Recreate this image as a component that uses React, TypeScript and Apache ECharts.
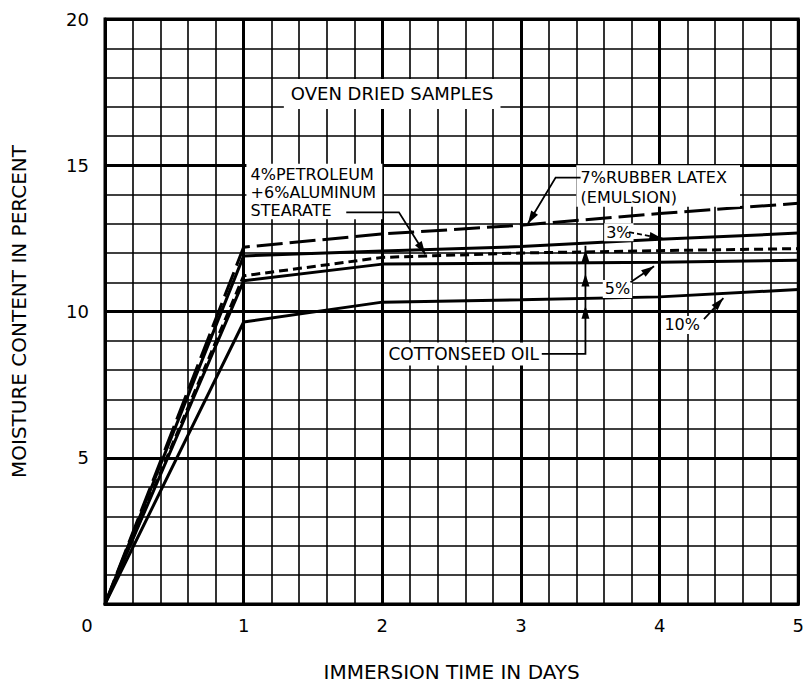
import React, { useEffect, useRef } from "react";
import * as echarts from "echarts";

// Immersion time (days)
const days = [0, 1, 2, 3, 4, 5];
// Moisture content in percent
const rubberLatex7 = [0, 12.2, 12.65, 12.95, 13.35, 13.7];
const cottonseed3 = [0, 11.9, 12.07, 12.22, 12.47, 12.68];
const petroleumStearate = [0, 11.22, 11.85, 12.0, 12.08, 12.15];
const cottonseed5 = [0, 11.05, 11.62, 11.65, 11.68, 11.75];
const cottonseed10 = [0, 9.64, 10.32, 10.4, 10.5, 10.75];

const xTicks = [0, 1, 2, 3, 4, 5];
const yTicks = [0, 5, 10, 15, 20];

const FONT = "DejaVu Sans";

const pairs = (ys: number[]) => days.map((d, i) => [d, ys[i]]);

export default function App() {
  const ref = useRef<HTMLDivElement>(null);
  useEffect(() => {
    if (!ref.current) return;
    const chart = echarts.init(ref.current, null, { renderer: "svg" });
    const lineSeries = (name: string, ys: number[], type: any) => ({
      name,
      type: "line",
      data: pairs(ys),
      symbol: "none",
      silent: true,
      lineStyle: { color: "#000", width: 3, type, cap: "butt" },
      z: 5,
    });
    chart.setOption({
      animation: false,
      backgroundColor: "#fff",
      grid: {
        left: 105,
        right: 5,
        top: 19,
        bottom: 81,
        show: true,
        borderColor: "#000",
        borderWidth: 3,
        backgroundColor: "transparent",
      },
      xAxis: {
        type: "value",
        min: xTicks[0],
        max: xTicks[xTicks.length - 1],
        interval: 1,
        name: "IMMERSION TIME IN DAYS",
        nameLocation: "middle",
        nameGap: 58,
        nameTextStyle: { fontFamily: FONT, fontSize: 20, color: "#000" },
        axisLine: { show: true, lineStyle: { color: "#000", width: 3 } },
        axisTick: { show: false },
        axisLabel: {
          margin: 12,
          fontFamily: FONT,
          fontSize: 18,
          color: "#000",
          formatter: (v: number) => (v === 0 ? "{z|0}" : String(v)),
          rich: { z: { fontFamily: FONT, fontSize: 18, color: "#000", padding: [0, 36, 0, 0] } },
        },
        splitLine: { show: true, lineStyle: { color: "#000", width: 3 } },
        minorTick: { show: false, splitNumber: 5 },
        minorSplitLine: { show: true, lineStyle: { color: "#000", width: 1.6 } },
      },
      yAxis: {
        type: "value",
        min: yTicks[0],
        max: yTicks[yTicks.length - 1],
        interval: 5,
        name: "MOISTURE CONTENT IN PERCENT",
        nameLocation: "middle",
        nameGap: 76,
        nameTextStyle: { fontFamily: FONT, fontSize: 20, color: "#000" },
        axisLine: { show: true, lineStyle: { color: "#000", width: 3 } },
        axisTick: { show: false },
        axisLabel: {
          margin: 16,
          fontFamily: FONT,
          fontSize: 18,
          color: "#000",
          showMinLabel: false,
        },
        splitLine: { show: true, lineStyle: { color: "#000", width: 3 } },
        minorTick: { show: false, splitNumber: 5 },
        minorSplitLine: { show: true, lineStyle: { color: "#000", width: 1.6 } },
      },
      series: [
        lineSeries("7% RUBBER LATEX (EMULSION)", rubberLatex7, [26, 7]),
        lineSeries("3% COTTONSEED OIL", cottonseed3, "solid"),
        lineSeries("4% PETROLEUM + 6% ALUMINUM STEARATE", petroleumStearate, [9, 5]),
        lineSeries("5% COTTONSEED OIL", cottonseed5, "solid"),
        lineSeries("10% COTTONSEED OIL", cottonseed10, "solid"),
      ],
    });

    const p = (x: number, y: number) => chart.convertToPixel({ gridIndex: 0 }, [x, y]) as number[];
    const txt = (
      x: number,
      y: number,
      text: string,
      opts: { size?: number; pad?: number[]; bg?: boolean } = {}
    ) => {
      const [px, py] = p(x, y);
      return {
        type: "text",
        x: px,
        y: py,
        z: 20,
        silent: true,
        style: {
          text,
          fill: "#000",
          font: `${opts.size || 17}px "${FONT}"`,
          align: "left",
          verticalAlign: "middle",
          backgroundColor: opts.bg === false ? null : "#fff",
          padding: opts.bg === false ? 0 : opts.pad || [3, 4],
        },
      };
    };
    const box = (x0: number, y0: number, x1: number, y1: number) => {
      const a = p(x0, y0);
      const b = p(x1, y1);
      return {
        type: "rect",
        z: 19,
        silent: true,
        shape: {
          x: Math.min(a[0], b[0]),
          y: Math.min(a[1], b[1]),
          width: Math.abs(b[0] - a[0]),
          height: Math.abs(b[1] - a[1]),
        },
        style: { fill: "#fff" },
      };
    };
    const leader = (pts: number[][], dashed = false) => ({
      type: "polyline",
      z: 21,
      silent: true,
      shape: { points: pts.map(([x, y]) => p(x, y)) },
      style: { stroke: "#000", lineWidth: 1.8, fill: "none", lineDash: dashed ? [5, 3] : null },
    });
    const arrow = (from: number[], tip: number[]) => {
      const a = p(from[0], from[1]);
      const b = p(tip[0], tip[1]);
      const dx = b[0] - a[0];
      const dy = b[1] - a[1];
      const len = Math.hypot(dx, dy) || 1;
      const ux = dx / len;
      const uy = dy / len;
      const L = 13;
      const W = 4;
      const bx = b[0] - ux * L;
      const by = b[1] - uy * L;
      return {
        type: "polygon",
        z: 22,
        silent: true,
        shape: {
          points: [
            [b[0], b[1]],
            [bx - uy * W, by + ux * W],
            [bx + uy * W, by - ux * W],
          ],
        },
        style: { fill: "#000" },
      };
    };

    chart.setOption({
      graphic: [
        txt(1.29, 17.44, "OVEN DRIED SAMPLES", { size: 18, pad: [6, 7] }),
        // petroleum block
        box(1.02, 15.05, 2.0, 13.15),
        txt(1.05, 14.68, "4%PETROLEUM", { size: 16, bg: false }),
        txt(1.05, 14.06, "+6%ALUMINUM", { size: 16, bg: false }),
        txt(1.05, 13.44, "STEARATE", { size: 16, bg: false }),
        // rubber latex block
        box(3.4, 15.0, 4.58, 13.58),
        txt(3.43, 14.58, "7%RUBBER LATEX", { size: 16, bg: false }),
        txt(3.43, 13.9, "(EMULSION)", { size: 16, bg: false }),
        txt(3.6, 12.71, "3%", { size: 16, pad: [1, 2] }),
        txt(3.59, 10.77, "5%", { size: 16, pad: [1, 2] }),
        txt(4.02, 9.54, "10%", { size: 16, pad: [1, 2] }),
        txt(2.03, 8.55, "COTTONSEED OIL", { size: 17, pad: [3, 2] }),
        // Stearate leader
        leader([
          [1.74, 13.39],
          [2.12, 13.39],
          [2.31, 11.96],
        ]),
        arrow([2.12, 13.39], [2.31, 11.96]),
        // Rubber latex leader
        leader([
          [3.43, 14.58],
          [3.25, 14.58],
          [3.05, 13.0],
        ]),
        arrow([3.25, 14.58], [3.05, 13.0]),
        // 3%
        leader(
          [
            [3.78, 12.71],
            [4.02, 12.5],
          ],
          true
        ),
        arrow([3.78, 12.71], [4.02, 12.5]),
        // 5%
        leader([
          [3.79, 11.0],
          [3.96, 11.55],
        ]),
        arrow([3.79, 11.0], [3.96, 11.55]),
        // 10%
        leader([
          [4.32, 9.74],
          [4.46, 10.46],
        ]),
        arrow([4.32, 9.74], [4.46, 10.46]),
        // Cottonseed oil leader
        leader([
          [3.15, 8.55],
          [3.465, 8.55],
          [3.465, 12.25],
        ]),
        arrow([3.465, 8.55], [3.465, 10.2]),
        arrow([3.465, 10.4], [3.465, 11.3]),
        arrow([3.465, 11.5], [3.465, 12.12]),
      ],
    });

    return () => chart.dispose();
  }, []);
  return (
    <div
      ref={ref}
      style={{ position: "fixed", left: 0, top: 0, width: 807, height: 687, background: "#fff" }}
    />
  );
}
